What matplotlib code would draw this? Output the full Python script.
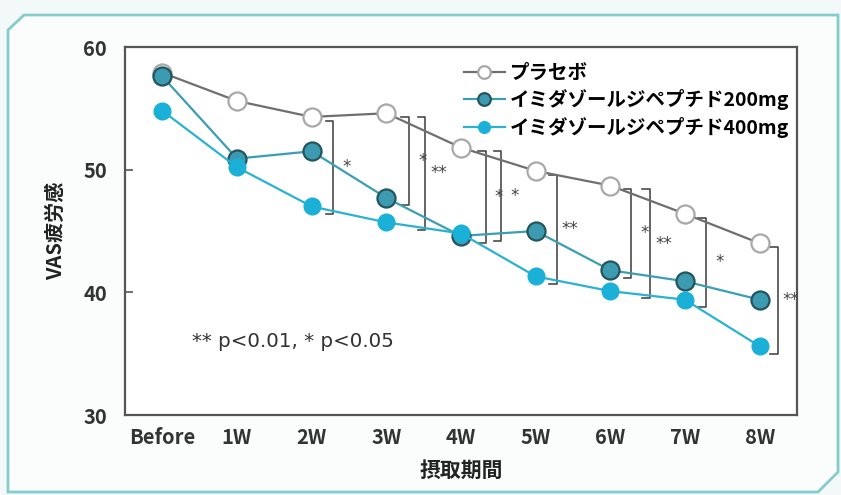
import matplotlib
matplotlib.use("Agg")
import matplotlib.pyplot as plt
from matplotlib.patches import Polygon
import numpy as np

plt.rcParams["font.family"] = ["Noto Sans CJK JP", "DejaVu Sans"]

# data
periods = ["Before", "1W", "2W", "3W", "4W", "5W", "6W", "7W", "8W"]
placebo = [57.9, 55.6, 54.3, 54.6, 51.8, 49.9, 48.7, 46.4, 44.0]
dose200 = [57.6, 50.9, 51.5, 47.7, 44.6, 45.0, 41.8, 40.9, 39.4]
dose400 = [54.8, 50.2, 47.0, 45.7, 44.8, 41.3, 40.1, 39.4, 35.6]
series_names = ["プラセボ", "イミダゾールジペプチド200mg", "イミダゾールジペプチド400mg"]

# significance brackets: (period index, compared series, x offset, label)
brackets = [
    (2, "400", 0.29, "*"),
    (3, "200", 0.30, "*"),
    (3, "400", 0.52, "**"),
    (4, "200", 0.33, "*"),
    (4, "400", 0.54, "*"),
    (5, "400", 0.28, "**"),
    (6, "200", 0.28, "*"),
    (6, "400", 0.53, "**"),
    (7, "400", 0.28, "*"),
    (8, "400", 0.24, "**"),
]
note = "** p<0.01, * p<0.05"

W, H = 841, 495
fig = plt.figure(figsize=(W / 100, H / 100), dpi=100)
fig.patch.set_facecolor("#f3f9f9")

# chamfered panel frame
def px(x, y):
    return (x / W, 1 - y / H)

frame = Polygon([px(8, 492), px(8, 30), px(24, 15), px(838, 15), px(838, 472), px(818, 492)],
                closed=True, transform=fig.transFigure, facecolor="#fbfdfd",
                edgecolor="#86cccc", linewidth=2.0, zorder=-5)
fig.patches.append(frame)

ax = fig.add_axes([125 / W, 80 / H, 672 / W, 368 / H])
ax.set_zorder(2)
ax.set_facecolor("white")
x = np.arange(len(periods))

ax.plot(x, placebo, "-o", color="#6f6f6f", lw=1.6, ms=13, mfc="white", mec="#a8a8a8",
        mew=1.6, label=series_names[0], zorder=3)
ax.plot(x, dose200, "-o", color="#3a9fb2", lw=1.6, ms=13, mfc="#3c9bb0", mec="#235560",
        mew=1.6, label=series_names[1], zorder=4)
ax.plot(x, dose400, "-o", color="#2ab2d0", lw=1.6, ms=12, mfc="#1bb0d8", mec="#1bb0d8",
        mew=1.0, label=series_names[2], zorder=5)

series = {"200": dose200, "400": dose400}
for i, key, off, lab in brackets:
    top = placebo[i] - 0.3
    bot = series[key][i] - 0.6
    xb = x[i] + off
    ax.plot([xb - 0.1, xb, xb, xb - 0.1], [top, top, bot, bot], color="#4a4a4a",
            lw=1.2, zorder=2)
    ax.text(xb + 0.18, (top + bot) / 2, lab, ha="center", va="center", fontsize=12,
            family="DejaVu Sans", color="#444444")

ax.text(0.4, 36.0, note, fontsize=14.3, family="DejaVu Sans", color="#333333",
        va="center", ha="left")

ax.set_xlim(-0.5, 8.5)
ax.set_ylim(30, 60)
ax.set_yticks([30, 40, 50, 60])
ax.set_xticks(x)
ax.set_xticklabels(periods)
ax.tick_params(axis="y", direction="in", length=6, width=1.2, color="#555555", pad=13,
               labelsize=14.5)
ax.tick_params(axis="x", length=0, pad=9, labelsize=14.5)
for lbl in ax.get_xticklabels() + ax.get_yticklabels():
    lbl.set_fontweight("bold")
    lbl.set_color("#333333")
for sp in ax.spines.values():
    sp.set_color("#555555")
    sp.set_linewidth(1.6)

ax.set_ylabel("VAS疲労感", fontsize=14.5, fontweight="bold", color="#222222", labelpad=12)
ax.set_xlabel("摂取期間", fontsize=15, fontweight="bold", color="#222222", labelpad=8)

ax.legend(loc="upper left", bbox_to_anchor=(0.49, 0.98), frameon=False,
          markerscale=0.7, handlelength=2.1, handletextpad=0.25, labelspacing=0.32,
          borderpad=0, prop={"weight": "bold", "size": 14})

fig.savefig("out.png", dpi=100, facecolor=fig.get_facecolor())
